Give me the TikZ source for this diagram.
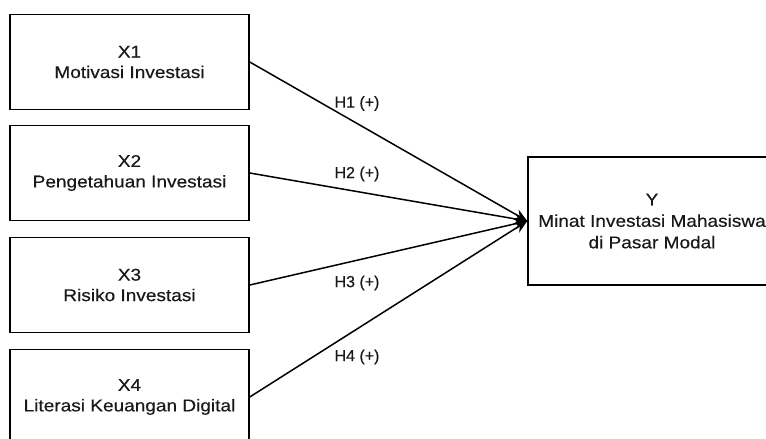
\documentclass[tikz,border=0pt]{standalone}
\usepackage{fontspec}
\setmainfont{Liberation Sans}[FakeBold=0.4]
\newfontfamily\boxfont[FakeStretch=1.12,FakeBold=0.4]{Liberation Sans}
\usetikzlibrary{arrows.meta}
\tikzset{
  varbox/.style={draw=black, line width=1.5pt, rectangle, minimum width=239pt,
    minimum height=95pt, align=center, text=black!90, inner sep=0pt,
    font=\boxfont\fontsize{17}{20.5}\selectfont},
  ybox/.style={varbox, minimum width=248pt, minimum height=128pt,
    font=\boxfont\fontsize{17}{21.5}\selectfont},
  link/.style={draw=black, line width=1.5pt, -{Stealth[length=13pt,width=11pt]}},
  hlabel/.style={text=black!90, inner sep=0pt, font=\fontsize{16}{19}\selectfont}
}
\begin{document}
\begin{tikzpicture}[x=1pt,y=-1pt]
\useasboundingbox (0,0) rectangle (766,439);
\clip (0,0) rectangle (766,439);
\fill[white] (0,0) rectangle (766,439);
\node[varbox] (x1) at (129.5,62) {X1\\Motivasi Investasi};
\node[varbox] (x2) at (129.5,173) {X2\\Pengetahuan Investasi};
\node[varbox] (x3) at (129.5,285) {X3\\Risiko Investasi};
\node[varbox] (x4) at (129.5,397) {X4\\Literasi Keuangan Digital};
\node[ybox] (y) at (652,221) {Y\\Minat Investasi Mahasiswa\\di Pasar Modal};
\draw[link] (x1.east) -- (y.west);
\draw[link] (x2.east) -- (y.west);
\draw[link] (x3.east) -- (y.west);
\draw[link] (x4.east) -- (y.west);
\node[hlabel] (h1) at (357,103.5) {H1 (+)};
\node[hlabel] (h2) at (357,174) {H2 (+)};
\node[hlabel] (h3) at (357,283) {H3 (+)};
\node[hlabel] (h4) at (357,357) {H4 (+)};
\end{tikzpicture}
\end{document}
